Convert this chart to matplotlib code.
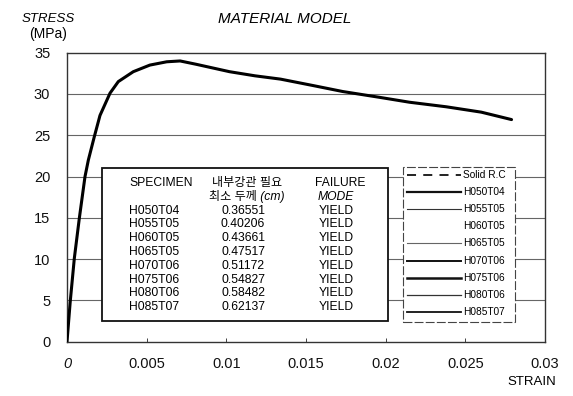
import matplotlib
matplotlib.use("Agg")
import matplotlib.pyplot as plt
from matplotlib.patches import Rectangle
from matplotlib.lines import Line2D

plt.rcParams['font.family'] = ['Liberation Sans', 'Noto Sans CJK KR', 'DejaVu Sans']

# ---- data ----
strain = [0.0, 0.0002, 0.00046, 0.00077, 0.00113, 0.00134, 0.00171, 0.00207,
          0.0027, 0.00322, 0.00416, 0.0052, 0.00626, 0.0071, 0.0081, 0.0102,
          0.0118, 0.0134, 0.0155, 0.0173, 0.0196, 0.0215, 0.0238, 0.0260, 0.0279]
stress = [0.0, 4.8, 10.1, 14.9, 20.0, 22.0, 24.8, 27.4,
          30.1, 31.5, 32.7, 33.5, 33.9, 34.0, 33.6, 32.7,
          32.2, 31.8, 31.0, 30.3, 29.6, 29.0, 28.45, 27.8, 26.9]

x_ticks = [0, 0.005, 0.01, 0.015, 0.02, 0.025, 0.03]
x_tick_labels = ['0', '0.005', '0.01', '0.015', '0.02', '0.025', '0.03']
y_ticks = [0, 5, 10, 15, 20, 25, 30, 35]

specimens = ['H050T04', 'H055T05', 'H060T05', 'H065T05',
             'H070T06', 'H075T06', 'H080T06', 'H085T07']
thickness = ['0.36551', '0.40206', '0.43661', '0.47517',
             '0.51172', '0.54827', '0.58482', '0.62137']
failure = ['YIELD'] * 8

legend_labels = ['Solid R.C'] + specimens

# ---- figure ----
W, H = 573, 396
fig = plt.figure(figsize=(W / 100, H / 100), dpi=100)
AX_L, AX_R, AX_T, AX_B = 67, 545, 52.7, 341.7
ax = fig.add_axes([AX_L / W, 1 - AX_B / H, (AX_R - AX_L) / W, (AX_B - AX_T) / H])


def ax_xy(px, py):
    return (px - AX_L) / (AX_R - AX_L), (AX_B - py) / (AX_B - AX_T)


ax.set_xlim(0, 0.03)
ax.set_ylim(0, 35)

for yv in y_ticks[1:-1]:
    ax.axhline(yv, color='#666666', lw=0.8, zorder=1)

ax.plot(strain, stress, color='black', lw=2.2, solid_capstyle='round', zorder=3)

ax.set_xticks(x_ticks)
ax.set_xticklabels(x_tick_labels, fontsize=10.5)
ax.set_yticks(y_ticks)
ax.set_yticklabels([str(v) for v in y_ticks], fontsize=10.5)
ax.tick_params(axis='x', direction='in', length=3, width=0.6, pad=11, colors='#222222')
ax.tick_params(axis='y', length=0, pad=12, colors='#222222')
for lab in ax.get_xticklabels() + ax.get_yticklabels():
    lab.set_color('#111111')
ax.get_xticklabels()[0].set_style('italic')
for s in ax.spines.values():
    s.set_linewidth(1.0)
    s.set_color('#333333')

# ---- titles ----
fig.text(22 / W, 1 - 19 / H, 'STRESS', fontsize=9.5, style='italic', va='center', ha='left')
fig.text(29 / W, 1 - 34 / H, '(MPa)', fontsize=10, va='center', ha='left')
fig.text(285 / W, 1 - 19 / H, 'MATERIAL MODEL', fontsize=11, style='italic', va='center', ha='center')
fig.text(532 / W, 1 - 382 / H, 'STRAIN', fontsize=9.5, va='center', ha='center')

# ---- table box ----
x0, y0 = ax_xy(101.7, 320.7)
x1, y1 = ax_xy(387.7, 168)
ax.add_patch(Rectangle((x0, y0), x1 - x0, y1 - y0, transform=ax.transAxes,
                       facecolor='white', edgecolor='#111111', lw=1.3, zorder=4, clip_on=False))

tfs = 8.7
def ttext(px, py, s, ha='left', **kw):
    x, y = ax_xy(px, py)
    ax.text(x, y, s, transform=ax.transAxes, ha=ha, va='center', fontsize=tfs, zorder=5, **kw)

ttext(129, 183.3, 'SPECIMEN')
ttext(247, 183.3, '내부강관 필요', ha='center')
ttext(247, 196.7, '최소 두께 (cm)', ha='center', style='italic')
ttext(340, 183.3, 'FAILURE', ha='center')
ttext(336, 196.7, 'MODE', ha='center', style='italic')
for i, (sp, th, fm) in enumerate(zip(specimens, thickness, failure)):
    yy = 210.7 + i * 13.8
    ttext(129, yy, sp)
    ttext(243, yy, th, ha='center')
    ttext(336, yy, fm, ha='center')

# ---- legend box ----
x0, y0 = ax_xy(402.7, 321.7)
x1, y1 = ax_xy(515, 166.7)
ax.add_patch(Rectangle((x0, y0), x1 - x0, y1 - y0, transform=ax.transAxes,
                       facecolor='white', edgecolor='#444444', lw=0.8,
                       linestyle=(0, (8, 2)), zorder=4, clip_on=False))

leg_styles = [
    dict(ls=(0, (5, 4)), lw=1.3, color='#111111'),
    dict(ls='-', lw=1.6, color='#111111'),
    dict(ls='-', lw=0.8, color='#333333'),
    dict(ls='-', lw=0.0, color='white'),
    dict(ls='-', lw=0.8, color='#666666'),
    dict(ls='-', lw=1.4, color='#111111'),
    dict(ls='-', lw=1.8, color='#111111'),
    dict(ls='-', lw=0.9, color='#333333'),
    dict(ls='-', lw=1.3, color='#111111'),
]
for i, (lab, st) in enumerate(zip(legend_labels, leg_styles)):
    yy = 175 + i * 17.1
    xa, ya = ax_xy(407, yy)
    xb, _ = ax_xy(461, yy)
    if st['lw'] > 0:
        ax.add_line(Line2D([xa, xb], [ya, ya], transform=ax.transAxes, linestyle=st['ls'],
                           lw=st['lw'], color=st['color'], zorder=5, clip_on=False))
    xt, _ = ax_xy(463, yy)
    ax.text(xt, ya, lab, transform=ax.transAxes, ha='left', va='center',
            fontsize=7.3, zorder=5)

fig.savefig('out.png', dpi=100)
